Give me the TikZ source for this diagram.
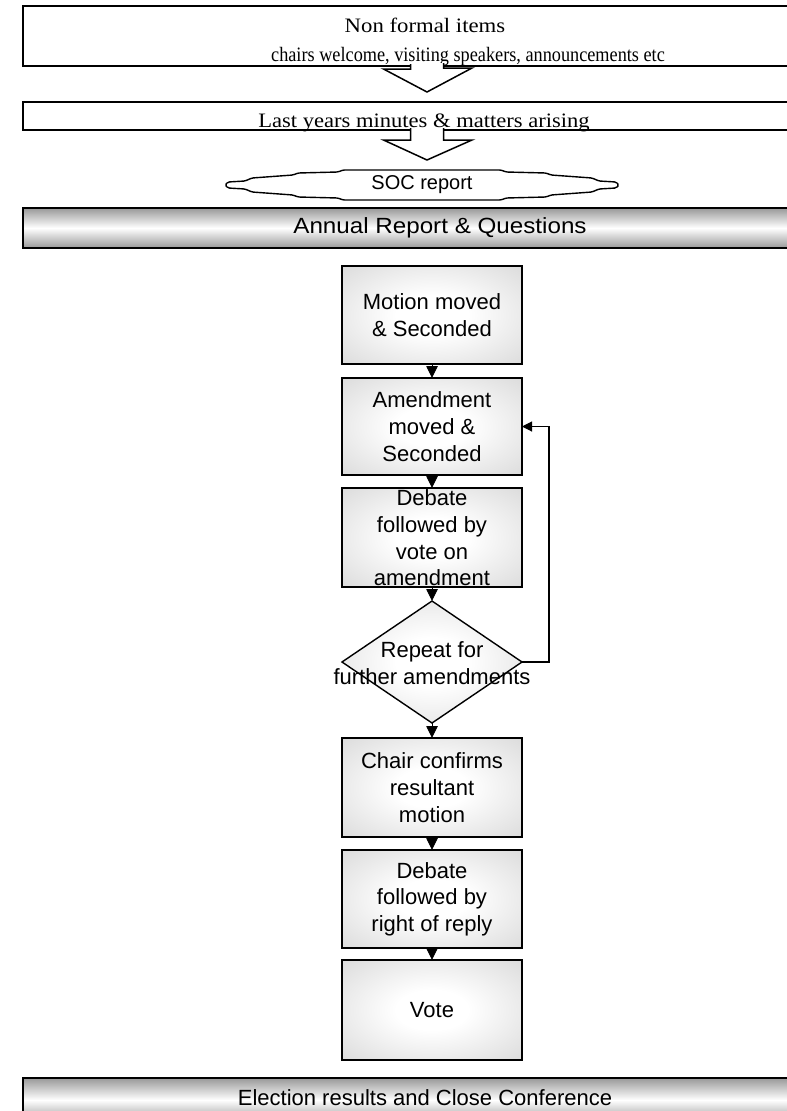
\documentclass[tikz,border=0pt]{standalone}
\usepackage{fontspec}
\setmainfont{Liberation Serif}
\setsansfont{Liberation Sans}
\usetikzlibrary{arrows.meta,shapes.geometric,calc}

\pgfdeclareradialshading{boxshade}{\pgfpoint{0bp}{0bp}}{color(0bp)=(white); color(10bp)=(white); color(45bp)=(black!19); color(70bp)=(black!23)}
\pgfdeclareverticalshading{barshade}{100bp}{color(0bp)=(black!65); color(15bp)=(black!56); color(50bp)=(white); color(85bp)=(black!56); color(100bp)=(black!65)}

\begin{document}
\begin{tikzpicture}[x=1pt,y=-1pt,
  topbox/.style={draw=black, line width=1.5pt, fill=white, rectangle, inner sep=0pt, outer sep=0pt, anchor=north west},
  bar/.style={draw=black, line width=1.8pt, rectangle, shade, shading=barshade, inner sep=0pt, outer sep=0pt, anchor=north west},
  flowbox/.style={draw=black, line width=1.4pt, rectangle, shade, shading=boxshade, minimum width=180pt, inner sep=0pt, outer sep=0pt, font=\sffamily\fontsize{22}{26.7}\selectfont, align=center},
  flowdiamond/.style={draw=black, line width=1.4pt, diamond, shade, shading=boxshade, minimum width=180pt, minimum height=122pt, inner sep=0pt, outer sep=0pt},
  flowtext/.style={font=\sffamily\fontsize{22}{26.7}\selectfont, align=center, inner sep=0pt},
  serif/.style={font=\rmfamily\fontsize{20.5}{24}\selectfont, inner sep=0pt, anchor=base},
  bartext/.style={font=\sffamily\fontsize{22}{26}\selectfont, inner sep=0pt},
  blockarrow/.style={draw=black, line width=1.5pt, fill=white, line join=miter},
  flowarrow/.style={draw=black, line width=0.9pt, -{Triangle[length=12pt,width=11.5pt]}},
  backarrow/.style={draw=black, line width=1.1pt, -{Triangle[length=10pt,width=10pt]}}
]
\useasboundingbox (0,0) rectangle (787,1111);
\clip (0,0) rectangle (787,1111);

% top boxes
\node[topbox, minimum width=900pt, minimum height=60pt] (nf) at (23,6) {};
\node[serif] (nft) at (425,32) {\scalebox{1.11}[1]{Non formal items}};
\node[serif] (nfc) at (468,61) {\scalebox{0.89}[1]{chairs welcome, visiting speakers, announcements etc}};

\node[topbox, minimum width=900pt, minimum height=28pt] (ly) at (23,102) {};

% block arrows
\coordinate (a1) at (427,66);
\path[blockarrow] (a1) ++(-16.5,-2) -- ++(0,5) -- ++(-27,0) -- (427,92) -- ++(45,-24) -- ++(-28.5,0) -- ++(0,-5);
\coordinate (a2) at (427,130);
\path[blockarrow] (a2) ++(-16.5,-2) -- ++(0,12) -- ++(-27,0) -- (427,160) -- ++(45,-20) -- ++(-28.5,0) -- ++(0,-12);

\node[serif] (lyt) at (424,127) {\scalebox{1.1}[1]{Last years minutes \& matters arising}};

% SOC cloud
\node[font=\sffamily\fontsize{20}{24}\selectfont, inner sep=0pt] (soc) at (422,185) {SOC report};
\draw[line width=1.4pt, fill=white, rounded corners=1.5pt] (soc.center) ++(-197,0)
  -- ++(3,-3) -- ++(17,-1) -- ++(7,-3) -- ++(41,-3) -- ++(5,-2) -- ++(40,-1) -- ++(5,-2)
  -- ++(158,0) -- ++(5,2) -- ++(40,1) -- ++(5,2) -- ++(41,3) -- ++(7,3) -- ++(17,1) -- ++(3,3)
  -- ++(-3,3) -- ++(-17,1) -- ++(-7,3) -- ++(-41,3) -- ++(-5,2) -- ++(-40,1) -- ++(-5,2)
  -- ++(-158,0) -- ++(-5,-2) -- ++(-40,-1) -- ++(-5,-2) -- ++(-41,-3) -- ++(-7,-3) -- ++(-17,-1) -- cycle;
\node[font=\sffamily\fontsize{20}{24}\selectfont, inner sep=0pt] at (soc) {SOC report};

% Annual report bar
\node[bar, minimum width=900pt, minimum height=40pt] (ar) at (23,208) {};
\node[bartext] (art) at (440,228) {\scalebox{1.1}[1]{Annual Report \& Questions}};

% flowchart
\node[flowbox, minimum height=98pt] (b1) at (432,315) {Motion moved\\\& Seconded};
\node[flowbox, minimum height=97pt] (b2) at (432,426.5) {Amendment\\moved \&\\Seconded};
\node[flowbox, minimum height=99pt] (b3) at (432,537.5) {};
\node[flowtext] (b3t) at (432,538) {Debate\\followed by\\vote on\\amendment};
\node[flowdiamond] (d) at (432,662) {};
\node[flowtext] (dt) at (432,663) {Repeat for\\further amendments};
\node[flowbox, minimum height=99pt] (b4) at (432,787.5) {Chair confirms\\resultant\\motion};
\node[flowbox, minimum height=98pt] (b5) at (432,899) {Debate\\followed by\\right of reply};
\node[flowbox, minimum height=100pt] (b6) at (432,1010) {Vote};

\draw[flowarrow] (b1.south) -- (b2.north);
\draw[flowarrow] (b2.south) -- (b3.north);
\draw[flowarrow] (b3.south) -- (d.north);
\draw[flowarrow] (d.south) -- (b4.north);
\draw[flowarrow] (b4.south) -- (b5.north);
\draw[flowarrow] (b5.south) -- (b6.north);
\draw[backarrow] (d.east) -- ++(27,0) |- (b2.east);

% Election bar
\node[bar, minimum width=900pt, minimum height=44pt] (el) at (23,1078) {};
\node[bartext] (elt) at (425,1098) {Election results and Close Conference};
\end{tikzpicture}
\end{document}
